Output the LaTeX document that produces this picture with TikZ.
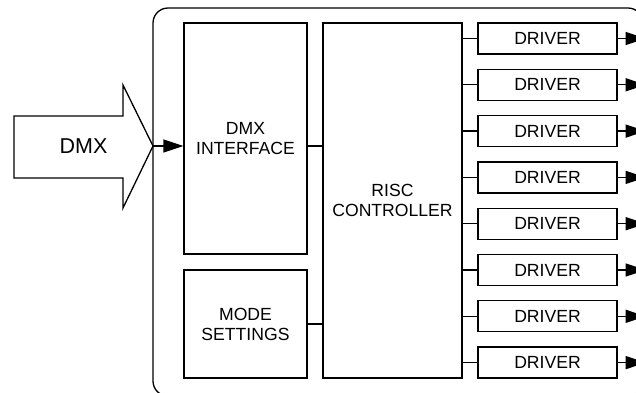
\documentclass[tikz,border=0pt]{standalone}
\usepackage{fontspec}
\setmainfont{Liberation Sans}
\usetikzlibrary{arrows.meta}

\begin{document}
\begin{tikzpicture}[x=1pt, y=-1pt, line width=1.3pt,
  block/.style={draw, inner sep=0pt, align=center, font=\fontsize{17.6}{20}\selectfont},
  driverbox/.style={block, minimum width=139pt, minimum height=31pt},
  sig/.style={-{Triangle[length=20pt, width=13pt]}}]

\useasboundingbox (0,0) rectangle (636,392);
\clip (0,0) rectangle (636,392);

% Board
\draw[rounded corners=15pt] (153,8) rectangle (643,396);

% DMX input arrow
\draw (14,116) -- (123,116) -- (123,85) -- (153,146) coordinate (dmxtip)
  -- (123,208) -- (123,178) -- (14,178) -- cycle;
\node[font=\fontsize{21.5}{24}\selectfont] (dmx) at (83.5,146) {DMX};

% Blocks
\node[block, minimum width=123pt, minimum height=231pt] (dmxif) at (245.5,138.5) {DMX\\INTERFACE};
\node[block, minimum width=123pt, minimum height=108pt] (mode) at (245.5,324) {MODE\\SETTINGS};
\node[block, minimum width=139pt, minimum height=355pt] (risc) at (392.5,200.5) {RISC\\CONTROLLER};

% Drivers
\node[driverbox] (drv1) at (547.5,38.5) {DRIVER};
\node[driverbox] (drv2) at (547.5,84.8) {DRIVER};
\node[driverbox] (drv3) at (547.5,131.1) {DRIVER};
\node[driverbox] (drv4) at (547.5,177.4) {DRIVER};
\node[driverbox] (drv5) at (547.5,223.7) {DRIVER};
\node[driverbox] (drv6) at (547.5,270) {DRIVER};
\node[driverbox] (drv7) at (547.5,316.3) {DRIVER};
\node[driverbox] (drv8) at (547.5,362.6) {DRIVER};

% Connections
\draw[sig] (dmxtip) -- (dmxtip -| dmxif.west);
\draw (dmxif.east |- dmxtip) -- (risc.west |- dmxtip);
\draw (mode.east) -- (risc.west |- mode.east);

\draw (risc.east |- drv1.west) -- (drv1.west);
\draw (risc.east |- drv2.west) -- (drv2.west);
\draw (risc.east |- drv3.west) -- (drv3.west);
\draw (risc.east |- drv4.west) -- (drv4.west);
\draw (risc.east |- drv5.west) -- (drv5.west);
\draw (risc.east |- drv6.west) -- (drv6.west);
\draw (risc.east |- drv7.west) -- (drv7.west);
\draw (risc.east |- drv8.west) -- (drv8.west);

% Outputs
\draw[sig] (drv1.east) -- ++(28,0);
\draw[sig] (drv2.east) -- ++(28,0);
\draw[sig] (drv3.east) -- ++(28,0);
\draw[sig] (drv4.east) -- ++(28,0);
\draw[sig] (drv5.east) -- ++(28,0);
\draw[sig] (drv6.east) -- ++(28,0);
\draw[sig] (drv7.east) -- ++(28,0);
\draw[sig] (drv8.east) -- ++(28,0);

\end{tikzpicture}
\end{document}
